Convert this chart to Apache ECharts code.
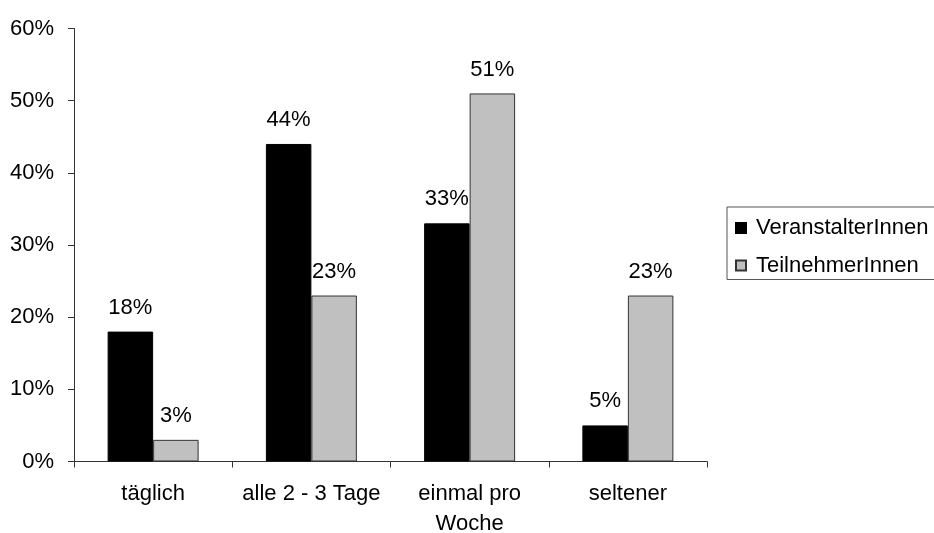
<!DOCTYPE html>
<html>
<head>
<meta charset="utf-8">
<script src="https://cdn.jsdelivr.net/npm/echarts@6/dist/echarts.min.js"></script>
<style>
  html, body { margin: 0; padding: 0; background: #fff; }
  #chart { width: 934px; height: 533px; }
</style>
</head>
<body>
<div id="chart"></div>
<script>
// Categories and values (percent)
const categories = ['täglich', 'alle 2 - 3 Tage', 'einmal pro\nWoche', 'seltener'];
const veranstalter = [18, 44, 33, 5];
const teilnehmer = [3, 23, 51, 23];
const seriesNames = ['VeranstalterInnen', 'TeilnehmerInnen'];

const FONT = '"Liberation Sans", Arial, sans-serif';
const FS = 22;
const AXIS_COLOR = '#333';

const chart = echarts.init(document.getElementById('chart'), null, { renderer: 'canvas' });

const labelCfg = {
  show: true,
  position: 'top',
  distance: 13,
  formatter: '{c}%',
  color: '#000',
  fontFamily: FONT,
  fontSize: FS
};

chart.setOption({
  animation: false,
  backgroundColor: '#fff',
  grid: { left: 74, right: 227, top: 28.5, bottom: 71.5, outerBoundsMode: 'none', containLabel: false },
  legend: {
    orient: 'vertical',
    left: 727,
    top: 207,
    itemWidth: 10,
    itemHeight: 10,
    itemGap: 13.5,
    padding: [9, 12, 2, 8],
    borderColor: '#555',
    borderWidth: 1,
    icon: 'rect',
    textStyle: {
      fontFamily: FONT,
      fontSize: FS,
      color: '#000',
      lineHeight: 24,
      padding: [0, 0, 0, 5]
    },
    data: seriesNames
  },
  xAxis: {
    type: 'category',
    data: categories,
    axisLine: { lineStyle: { color: AXIS_COLOR, width: 1 } },
    axisTick: { show: true, length: 6, lineStyle: { color: AXIS_COLOR } },
    axisLabel: {
      margin: 17,
      color: '#000',
      fontFamily: FONT,
      fontSize: FS,
      lineHeight: 30,
      interval: 0
    },
    splitLine: { show: false }
  },
  yAxis: {
    type: 'value',
    min: 0,
    max: 60,
    interval: 10,
    axisLine: { show: true, lineStyle: { color: AXIS_COLOR, width: 1 } },
    axisTick: { show: true, length: 6, lineStyle: { color: AXIS_COLOR } },
    axisLabel: {
      margin: 20,
      formatter: '{value}%',
      color: '#000',
      fontFamily: FONT,
      fontSize: FS
    },
    splitLine: { show: false }
  },
  series: [
    {
      name: seriesNames[0],
      type: 'bar',
      data: veranstalter,
      barGap: '0%',
      barCategoryGap: '42.5%',
      itemStyle: { color: '#000', borderColor: '#000', borderWidth: 1 },
      label: labelCfg
    },
    {
      name: seriesNames[1],
      type: 'bar',
      data: teilnehmer,
      barGap: '0%',
      barCategoryGap: '42.5%',
      itemStyle: { color: '#c0c0c0', borderColor: '#333', borderWidth: 1 },
      label: labelCfg
    }
  ]
});
</script>
</body>
</html>
